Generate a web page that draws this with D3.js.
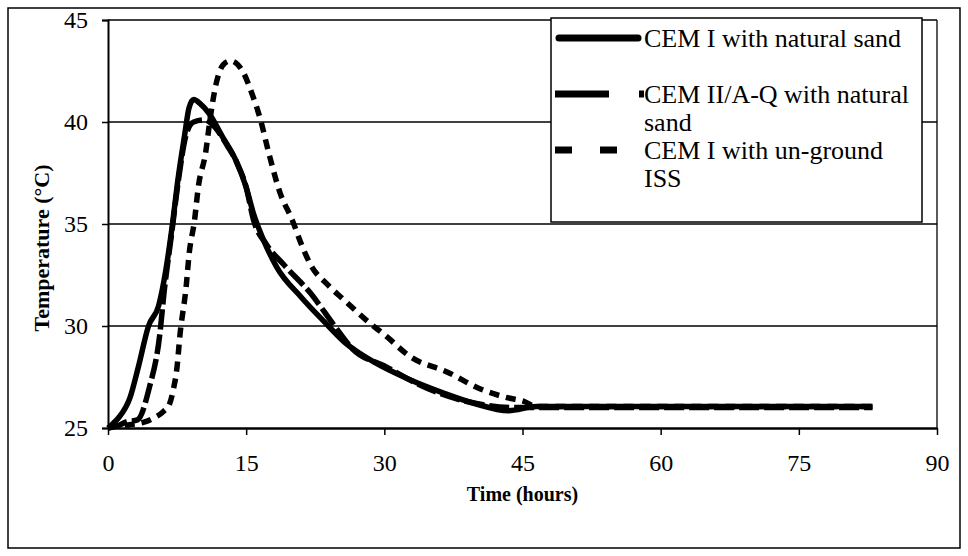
<!DOCTYPE html>
<html>
<head>
<meta charset="utf-8">
<script src="https://cdn.jsdelivr.net/npm/d3@7"></script>
<style>
  body { margin: 0; background: #fff; }
  text { font-family: "Liberation Serif", "Times New Roman", serif; fill: #000; }
</style>
</head>
<body>
<svg id="chart" width="968" height="556"></svg>
<script>
// hours, temperature (°C)
var cemNatural = [
  [0,25],[0.5,25.2],[1.15,25.5],[2.4,26.5],[3.3,28],[4.4,30],[5.5,31],[6.3,32.8],
  [7.0,35],[7.6,37.2],[8.3,39.3],[8.8,40.7],[9.3,41.1],[10,40.9],[11,40.4],[12.4,39.3],
  [13.9,38.1],[15,36.8],[15.8,35.5],[16.9,34.2],[18.3,32.9],[21,31.4],[23.5,30.2],
  [25.7,29.2],[29,28.2],[32.6,27.4],[36.5,26.7],[39.8,26.2],[43.5,25.85],[46.5,26.05],
  [50,26.05],[60,26.05],[70,26.05],[83,26.05]
];
var cemIIAQ = [
  [0,25],[1,25.1],[2,25.3],[3.2,25.4],[4.5,27],[5.6,29.5],[6.1,31.7],[6.9,34.5],
  [7.6,37],[8.5,39.4],[9.3,40],[10.5,40.1],[11.5,39.8],[13,38.8],[14,38],[15,36.8],
  [15.8,35.2],[17.2,34.0],[19.1,33],[22,31.6],[24.6,30],[26.5,28.9],[30.2,28.0],
  [33,27.3],[36,26.7],[40,26.2],[44,26.0],[50,26.0],[60,26.0],[70,26.0],[83,26.0]
];
var cemISS = [
  [0,25],[1,25.1],[2,25.15],[3,25.2],[4,25.3],[5,25.5],[6,25.8],[6.7,26.2],[7.1,26.9],
  [7.5,28],[7.8,29.5],[8.5,32],[8.8,33.5],[9.4,35.2],[9.8,36.8],[10.6,38.5],[11.1,40.2],
  [11.7,41.8],[12.5,42.8],[13.3,43.0],[14.6,42.5],[15.7,41.3],[16.5,40.2],[17.5,38.4],
  [18.7,36.5],[20,35.2],[21,34],[22,33],[23.9,32],[25.7,31.25],[28,30.3],[30.2,29.5],
  [32.8,28.5],[36.8,27.75],[40.5,26.9],[43.2,26.5],[45.2,26.3],[46.5,26.05],[50,26.05],
  [60,26.05],[70,26.05],[83,26.05]
];
var xTicks = [0, 15, 30, 45, 60, 75, 90];
var yTicks = [25, 30, 35, 40, 45];

var svg = d3.select("#chart");

svg.append("rect")
  .attr("x", 8).attr("y", 8).attr("width", 952).attr("height", 540)
  .attr("fill", "#fff").attr("stroke", "#000").attr("stroke-width", 1.5);

var x = d3.scaleLinear().domain([0, 90]).range([108, 937]);
var y = d3.scaleLinear().domain([25, 45]).range([428, 20]);

// gridlines
svg.append("g")
  .selectAll("line")
  .data(yTicks.slice(1))
  .enter()
  .append("line")
    .attr("x1", x(0)).attr("x2", x(90))
    .attr("y1", function(d){ return y(d); })
    .attr("y2", function(d){ return y(d); })
    .attr("stroke", "#000").attr("stroke-width", 1.3);

// right edge of plot area
svg.append("line")
  .attr("x1", x(90)).attr("x2", x(90)).attr("y1", y(45)).attr("y2", y(25))
  .attr("stroke", "#000").attr("stroke-width", 1.3);

var yAxis = svg.append("g")
  .attr("transform", "translate(" + x(0) + ",0)")
  .call(d3.axisLeft(y).tickValues(yTicks).tickSize(6).tickPadding(14));
yAxis.select(".domain").attr("stroke-width", 2);
yAxis.selectAll("line").attr("stroke-width", 1.5);
yAxis.selectAll("text").attr("font-size", 24).attr("font-family", "Liberation Serif");

var xAxis = svg.append("g")
  .attr("transform", "translate(0," + y(25) + ")")
  .call(d3.axisBottom(x).tickValues(xTicks).tickSize(7).tickPadding(19).tickSizeOuter(0));
xAxis.select(".domain").attr("stroke-width", 2.5);
xAxis.selectAll("line").attr("stroke-width", 1.5);
xAxis.selectAll("text").attr("font-size", 24).attr("font-family", "Liberation Serif");

// curves
var line = d3.line()
  .x(function(d){ return x(d[0]); })
  .y(function(d){ return y(d[1]); })
  .curve(d3.curveMonotoneX);

var styles = [
  { data: cemNatural, dash: null },
  { data: cemIIAQ, dash: "20,5" },
  { data: cemISS, dash: "10,7" }
];

svg.append("g")
  .selectAll("path")
  .data(styles)
  .enter()
  .append("path")
    .attr("d", function(d){ return line(d.data); })
    .attr("fill", "none")
    .attr("stroke", "#000")
    .attr("stroke-width", 5.5)
    .attr("stroke-dasharray", function(d){ return d.dash; });

// axis titles
svg.append("text")
  .attr("x", (x(0) + x(90)) / 2).attr("y", 501)
  .attr("text-anchor", "middle")
  .attr("font-size", 20).attr("font-weight", "bold")
  .text("Time (hours)");

svg.append("text")
  .attr("transform", "translate(49,248) rotate(-90)")
  .attr("text-anchor", "middle")
  .attr("font-size", 22).attr("font-weight", "bold")
  .text("Temperature (°C)");

// legend
var legend = svg.append("g").attr("transform", "translate(551,18)");
legend.append("rect")
  .attr("width", 371).attr("height", 204)
  .attr("fill", "#fff").attr("stroke", "#000").attr("stroke-width", 1.5);

var legendRows = [
  { y: 20, dash: null, x1: 8, x2: 87, cap: "round", lines: ["CEM I with natural sand"] },
  { y: 76, dash: "54,30,5,100", x1: 4, x2: 93, cap: "butt", lines: ["CEM II/A-Q with natural", "sand"] },
  { y: 132, dash: "17,28", x1: 4, x2: 66, cap: "butt", lines: ["CEM I with un-ground", "ISS"] }
];

legendRows.forEach(function(r) {
  legend.append("line")
    .attr("x1", r.x1).attr("x2", r.x2)
    .attr("y1", r.y).attr("y2", r.y)
    .attr("stroke", "#000").attr("stroke-width", 7)
    .attr("stroke-linecap", r.cap)
    .attr("stroke-dasharray", r.dash);
  var t = legend.append("text")
    .attr("x", 93).attr("y", r.y + 9)
    .attr("font-size", 26);
  r.lines.forEach(function(s, j) {
    t.append("tspan").attr("x", 93).attr("dy", j === 0 ? 0 : 28).text(s);
  });
});
</script>
</body>
</html>
